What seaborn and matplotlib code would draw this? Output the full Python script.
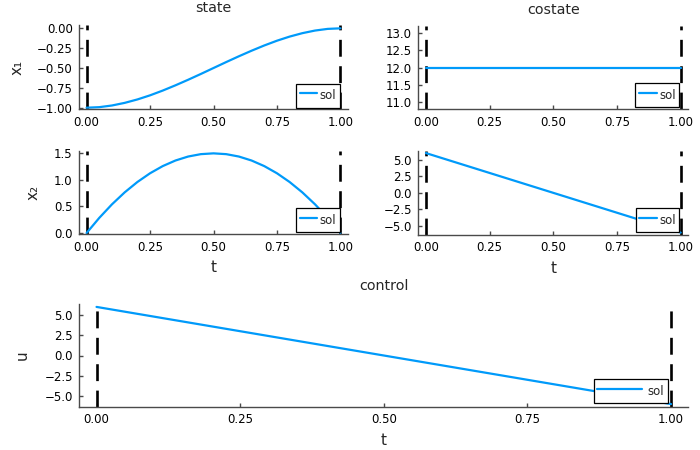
import matplotlib
matplotlib.use("Agg")
import matplotlib.pyplot as plt
import seaborn as sns
import pandas as pd

# ---- data ----
t_grid = [0.00, 0.05, 0.10, 0.15, 0.20, 0.25, 0.30, 0.35, 0.40, 0.45, 0.50,
          0.55, 0.60, 0.65, 0.70, 0.75, 0.80, 0.85, 0.90, 0.95, 1.00]
x1_vals = [-1.000, -0.993, -0.972, -0.939, -0.896, -0.844, -0.784, -0.718, -0.648, -0.575, -0.500,
           -0.425, -0.352, -0.282, -0.216, -0.156, -0.104, -0.061, -0.028, -0.007, 0.000]
x2_vals = [0.000, 0.285, 0.540, 0.765, 0.960, 1.125, 1.260, 1.365, 1.440, 1.485, 1.500,
           1.485, 1.440, 1.365, 1.260, 1.125, 0.960, 0.765, 0.540, 0.285, 0.000]
t_lin = [0.00, 0.25, 0.50, 0.75, 1.00]
p1_vals = [12.0, 12.0, 12.0, 12.0, 12.0]
p2_vals = [6.0, 3.0, 0.0, -3.0, -6.0]
u_vals = [6.0, 3.0, 0.0, -3.0, -6.0]
t_bounds = [0.0, 1.0]

x_ticks = [0.0, 0.25, 0.5, 0.75, 1.0]
x_ticklabels = ["0.00", "0.25", "0.50", "0.75", "1.00"]
y1_ticks = [0.0, -0.25, -0.5, -0.75, -1.0]
y1_ticklabels = ["0.00", "\u22120.25", "\u22120.50", "\u22120.75", "\u22121.00"]
y2_ticks = [11.0, 11.5, 12.0, 12.5, 13.0]
y2_ticklabels = ["11.0", "11.5", "12.0", "12.5", "13.0"]
y3_ticks = [0.0, 0.5, 1.0, 1.5]
y3_ticklabels = ["0.0", "0.5", "1.0", "1.5"]
y45_ticks = [-5.0, -2.5, 0.0, 2.5, 5.0]
y45_ticklabels = ["\u22125.0", "\u22122.5", "0.0", "2.5", "5.0"]

series_label = "sol"
# --------------------------------------

sns.set_style("ticks")
plt.rcParams['font.family'] = ['DejaVu Sans']

BLUE = "#009AFA"
AXC = "#4a4a4a"

fig = plt.figure(figsize=(7, 4.5), dpi=100)

def add(l, r, t, b):
    return fig.add_axes([l / 700, 1 - b / 450, (r - l) / 700, (b - t) / 450])

def style(ax, xlim, ylim, yt, ytl, legend_pos, hl, htp):
    ax.set_xlim(*xlim)
    ax.set_ylim(*ylim)
    ax.set_xticks(x_ticks)
    ax.set_xticklabels(x_ticklabels)
    ax.set_yticks(yt)
    ax.set_yticklabels(ytl)
    for s in ["top", "right"]:
        ax.spines[s].set_visible(False)
    for s in ["left", "bottom"]:
        ax.spines[s].set_color(AXC)
        ax.spines[s].set_linewidth(1.0)
    ax.tick_params(direction="in", length=3, width=1.0, color=AXC,
                   labelsize=8.5, labelcolor="black", pad=4.5)
    for tv in t_bounds:
        ax.axvline(tv, color="black", lw=1.9, dashes=(6.4, 3.6), zorder=1)
    leg = ax.legend(loc="lower right", bbox_to_anchor=legend_pos, borderaxespad=0,
                    fontsize=8.5, handlelength=hl, handletextpad=htp,
                    handleheight=1.85, borderpad=0.3, fancybox=False,
                    framealpha=1.0, edgecolor="black")
    leg.get_frame().set_linewidth(0.9)
    ax.set_xlabel("")
    ax.set_ylabel("")

def draw(ax, t, y):
    df = pd.DataFrame({"t": t, "y": y})
    sns.lineplot(data=df, x="t", y="y", ax=ax, color=BLUE, lw=1.6,
                 label=series_label, zorder=2)

xl = (-0.03, 1.03)

ax1 = add(79, 348, 25, 109.3)
draw(ax1, t_grid, x1_vals)
style(ax1, xl, (-1.02, 0.042), y1_ticks, y1_ticklabels, (0.970, 0.019), 1.5, 0.2)
ax1.set_title("state", fontsize=10.3, pad=9)
ax1.set_ylabel("x\u2081", fontsize=11, labelpad=9)

ax2 = add(418.3, 688.3, 26, 109.3)
draw(ax2, t_lin, p1_vals)
style(ax2, xl, (10.8, 13.2), y2_ticks, y2_ticklabels, (0.966, 0.024), 1.5, 0.2)
ax2.set_title("costate", fontsize=10.3, pad=9)

ax3 = add(79, 348, 150.7, 234.3)
draw(ax3, t_grid, x2_vals)
style(ax3, xl, (-0.025, 1.55), y3_ticks, y3_ticklabels, (0.970, 0.0275), 1.5, 0.2)
ax3.set_ylabel("x\u2082", fontsize=11, labelpad=10)
ax3.set_xlabel("t", fontsize=11, labelpad=5)

ax4 = add(418.3, 688.3, 150.7, 235)
draw(ax4, t_lin, p2_vals)
style(ax4, xl, (-6.36, 6.36), y45_ticks, y45_ticklabels, (0.967, 0.036), 1.5, 0.2)
ax4.set_xlabel("t", fontsize=11, labelpad=5)

ax5 = add(79.3, 688.3, 304, 407)
draw(ax5, t_lin, u_vals)
style(ax5, xl, (-6.36, 6.36), y45_ticks, y45_ticklabels, (0.966, 0.036), 3.8, 0.45)
ax5.set_title("control", fontsize=10.3, pad=10)
ax5.set_ylabel("u", fontsize=11, labelpad=11)
ax5.set_xlabel("t", fontsize=11, labelpad=5)

fig.savefig("out.png", dpi=100)
